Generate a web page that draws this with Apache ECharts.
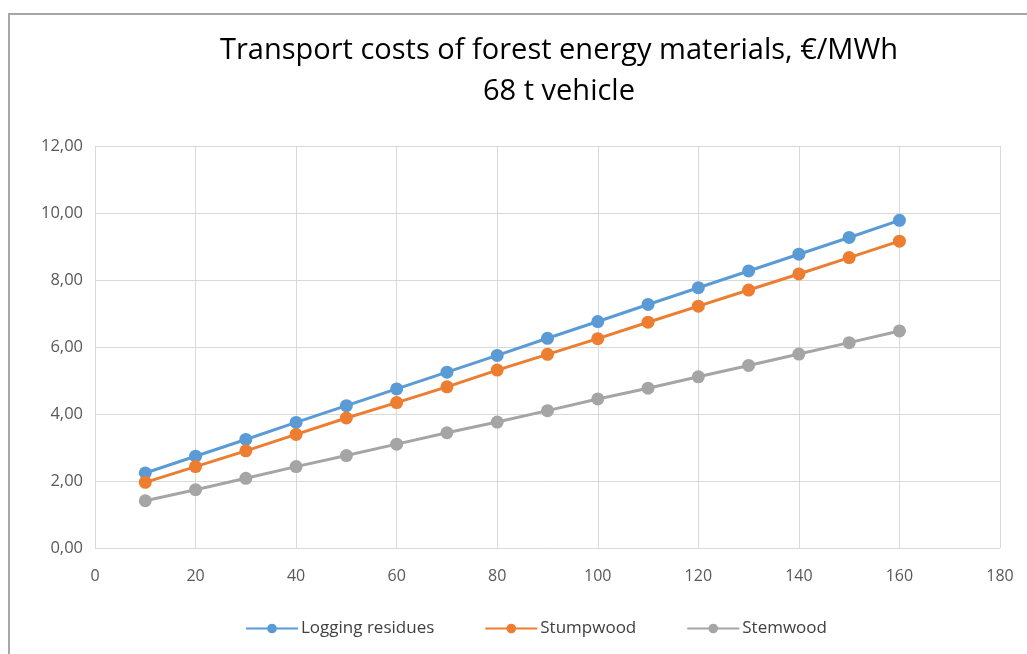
<!DOCTYPE html>
<html>
<head>
<meta charset="utf-8">
<script src="https://cdn.jsdelivr.net/npm/echarts@6/dist/echarts.min.js"></script>
<style>
	body { margin: 0; background: #fff; }
	#wrap { position: relative; width: 1027px; height: 654px; }
	#chart { width: 1027px; height: 654px; }
	#frame { position: absolute; left: 8px; top: 13px; width: 1100px; height: 700px; border-left: 2px solid #a6a6a6; border-top: 2px solid #a6a6a6; pointer-events: none; }
</style>
</head>
<body>
<div id="wrap">
	<div id="chart"></div>
	<div id="frame"></div>
</div>
<script>
// distance, km
var distances = [10, 20, 30, 40, 50, 60, 70, 80, 90, 100, 110, 120, 130, 140, 150, 160];
// €/MWh
var loggingResidues = [2.24, 2.74, 3.24, 3.75, 4.25, 4.75, 5.25, 5.75, 6.26, 6.76, 7.27, 7.77, 8.27, 8.77, 9.27, 9.78];
var stumpwood = [1.96, 2.43, 2.90, 3.39, 3.88, 4.34, 4.81, 5.31, 5.78, 6.25, 6.74, 7.22, 7.70, 8.18, 8.67, 9.16];
var stemwood = [1.41, 1.74, 2.08, 2.43, 2.76, 3.10, 3.44, 3.76, 4.10, 4.45, 4.77, 5.11, 5.45, 5.79, 6.13, 6.48];
var seriesNames = ['Logging residues', 'Stumpwood', 'Stemwood'];
var seriesColors = ['#5B9BD5', '#ED7D31', '#A5A5A5'];

var myChart;
var fontName = 'Open Sans';

function pairs(values) {
	var out = [];
	for (var i = 0; i < distances.length; i++) {
		out.push([distances[i], values[i]]);
	}
	return out;
}

function makeSeries(name, values, color) {
	return {
		name: name,
		type: 'line',
		data: pairs(values),
		symbol: 'circle',
		symbolSize: 13,
		showSymbol: true,
		lineStyle: { color: color, width: 3 },
		itemStyle: { color: color },
		emphasis: { disabled: true }
	};
}

function chartInit() {
	myChart = echarts.init(document.getElementById('chart'));
	var option = {
		animation: false,
		title: {
			text: 'Transport costs of forest energy materials, €/MWh\n68 t vehicle',
			left: 554,
			textAlign: 'center',
			top: 25,
			textStyle: {
				fontFamily: fontName,
				fontWeight: 'normal',
				fontSize: 29,
				lineHeight: 41,
				color: '#000'
			}
		},
		legend: {
			bottom: 12,
			left: 240,
			itemWidth: 52,
			itemHeight: 12,
			itemGap: 50,
			data: seriesNames,
			textStyle: { fontFamily: fontName, fontSize: 17, color: '#404040', padding: [0, 0, 0, -2] }
		},
		grid: { left: 95, right: 27, top: 146, bottom: 106 },
		xAxis: {
			type: 'value',
			min: 0,
			max: 180,
			interval: 20,
			axisLine: { show: false },
			axisTick: { show: false },
			splitLine: { show: true, lineStyle: { color: '#d9d9d9', width: 1 } },
			axisLabel: { fontFamily: fontName, fontSize: 16, color: '#595959', margin: 20 }
		},
		yAxis: {
			type: 'value',
			min: 0,
			max: 12,
			interval: 2,
			axisLine: { show: false },
			axisTick: { show: false },
			splitLine: { show: true, lineStyle: { color: '#d9d9d9', width: 1 } },
			axisLabel: {
				fontFamily: fontName,
				fontSize: 16.5,
				color: '#595959',
				margin: 12,
				formatter: function(v) { return v.toFixed(2).replace('.', ','); }
			}
		},
		series: [
			makeSeries(seriesNames[0], loggingResidues, seriesColors[0]),
			makeSeries(seriesNames[1], stumpwood, seriesColors[1]),
			makeSeries(seriesNames[2], stemwood, seriesColors[2])
		]
	};
	myChart.setOption(option);
}

chartInit();
</script>
</body>
</html>
